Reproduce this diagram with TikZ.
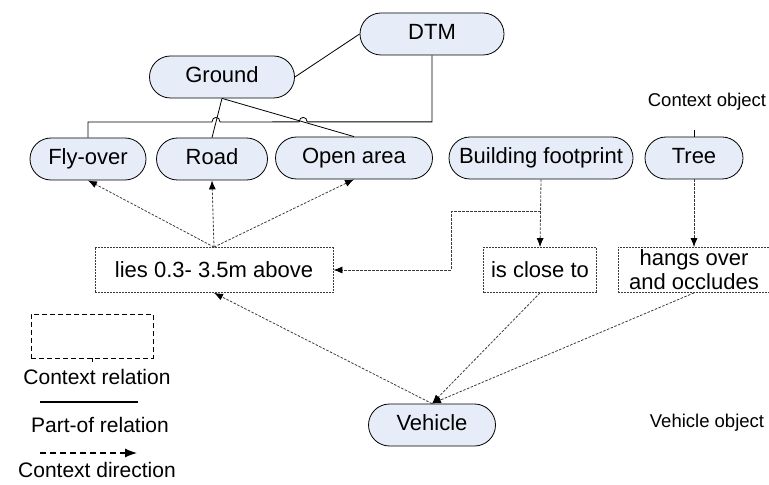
\documentclass[tikz,border=0pt]{standalone}
\usepackage{fontspec}
\setmainfont{Liberation Sans}
\usetikzlibrary{arrows.meta,calc,positioning,shapes.misc}
\definecolor{objfill}{RGB}{231,237,248}
\definecolor{ctxgray}{RGB}{60,60,60}

\begin{document}
\begin{tikzpicture}[x=1bp,y=-1bp,
    ObjStyle/.style={draw, line width=0.8bp, fill=objfill, rounded rectangle,
      minimum height=42bp, inner sep=0pt, text height=15.5bp, text depth=5bp,
      font=\fontsize{22bp}{24bp}\selectfont},
    RelStyle/.style={draw=ctxgray, dash pattern=on 2bp off 1bp, line width=0.8bp,
      minimum height=45bp, inner sep=0pt, align=center, font=\fontsize{22bp}{24bp}\selectfont},
    CtxEdge/.style={ctxgray, dash pattern=on 2.5bp off 1.5bp, line width=0.8bp,
      -{Latex[length=9bp,width=7bp,black]}},
    PartEdge/.style={line width=0.8bp},
    LabelStyle/.style={font=\fontsize{18.5bp}{20bp}\selectfont},
    LegendStyle/.style={font=\fontsize{21bp}{24bp}\selectfont}]
    \useasboundingbox (0,0) rectangle (769,485);
    % objects
    \node[ObjStyle, minimum width=144bp] (dtm)  at (432,34)  {DTM};
    \node[ObjStyle, minimum width=145bp] (gnd)  at (222,77)  {Ground};
    \node[ObjStyle, minimum width=116bp] (fly)  at (88,159)  {Fly-over};
    \node[ObjStyle, minimum width=111bp] (road) at (212,159) {Road};
    \node[ObjStyle, minimum width=157bp] (open) at (354,158) {Open area};
    \node[ObjStyle, minimum width=184bp] (bfp)  at (541,158) {Building footprint};
    \node[ObjStyle, minimum width=98bp]  (tree) at (694,158) {Tree};
    \node[ObjStyle, minimum width=127bp] (veh)  at (432,425) {Vehicle};
    % relations
    \node[RelStyle, minimum width=238bp] (lies)  at (214,270) {lies 0.3- 3.5m above};
    \node[RelStyle, minimum width=113bp] (close) at (540,270) {is close to};
    \node[RelStyle, minimum width=152bp] (hangs) at (694,270) {hangs over\\and occludes};
    % labels
    \node[LabelStyle] (ctxobj) at (707,102) {Context object};
    \node[LabelStyle] (vehobj) at (707,423) {Vehicle object};
    % part-of relations
    \coordinate (hopB) at ($(gnd.south)!0.6!(road.north)$);
    \coordinate (hopA) at ($(gnd.south)!0.615!(open.north)$);
    \draw[PartEdge] (gnd.east) -- (dtm.west);
    \draw[PartEdge] (gnd.south) -- (road.north);
    \draw[PartEdge] (gnd.south) -- (open.north);
    \draw[PartEdge] (dtm.south) |- ($(hopA)+(4,0)$)
      .. controls ($(hopA)+(4,-6)$) and ($(hopA)+(-4,-6)$) .. ($(hopA)+(-4,0)$)
      -- ($(hopB)+(4,0)$)
      .. controls ($(hopB)+(4,-6)$) and ($(hopB)+(-4,-6)$) .. ($(hopB)+(-4,0)$)
      -| (fly.north);
    \draw[PartEdge] (tree.north) -- ++(0,-7);
    % context directions
    \draw[CtxEdge] (lies.north) -- (fly.south);
    \draw[CtxEdge] (lies.north) -- (road.south);
    \draw[CtxEdge] (lies.north) -- (open.south);
    \draw[CtxEdge] (bfp.south) -- (close.north);
    \coordinate (brk) at ($(bfp.south)!0.48!(close.north)$);
    \coordinate (knee) at (451,0);
    \draw[CtxEdge] (brk) -- (brk -| knee) |- (lies.east);
    \draw[CtxEdge] (tree.south) -- (hangs.north);
    \draw[CtxEdge] (veh.north) -- (lies.south);
    \draw[CtxEdge] (close.south) -- (veh.north);
    \draw[CtxEdge] (hangs.south) -- (veh.north);
    % legend
    \node[draw, dash pattern=on 5bp off 3bp, line width=0.8bp, minimum width=122bp,
      minimum height=44bp, inner sep=0pt] (legrel) at (92,336) {};
    \draw[line width=0.8bp] (legrel.south) -- ++(0,4);
    \node[LegendStyle] (legreltxt) at (97,377) {Context relation};
    \coordinate (solA) at (40,402);
    \coordinate (solB) at (138,402);
    \draw[line width=1.5bp] (solA) -- (solB);
    \node[LegendStyle] (legpart) at (100,425) {Part-of relation};
    \coordinate (dirA) at (40,453);
    \coordinate (dirB) at (137,453);
    \draw[line width=1.2bp, dash pattern=on 6bp off 4bp,
      -{Latex[length=12bp,width=9bp]}] (dirA) -- (dirB);
    \node[LegendStyle] (legdir) at (97,470) {Context direction};
\end{tikzpicture}
\end{document}
